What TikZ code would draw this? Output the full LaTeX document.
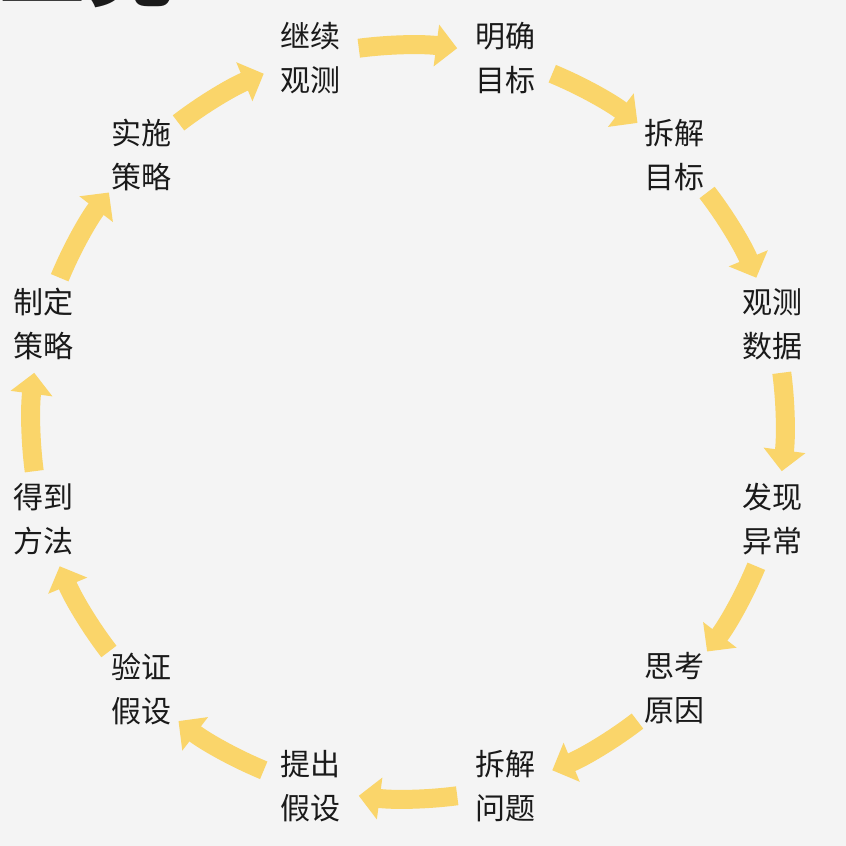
\documentclass[tikz,border=0pt]{standalone}
\usepackage{fontspec}
\newfontfamily\cjk{Noto Sans CJK SC}
\usetikzlibrary{arrows.meta}
\definecolor{bg}{RGB}{244,244,244}
\definecolor{arrowyellow}{RGB}{250,213,106}
\definecolor{txt}{RGB}{26,26,26}
\begin{document}
\begin{tikzpicture}[x=1pt,y=1pt,
  lbl/.style={align=center,inner sep=0pt,text=txt,font=\cjk\fontsize{30}{44}\selectfont},
  cyclearrow/.style={draw=arrowyellow,line width=19pt,-{Triangle[length=21pt,width=41pt,fill=arrowyellow]}}]
\fill[bg] (-408,-424) rectangle (438,422);
\useasboundingbox (-408,-424) rectangle (438,422);
% cropped title
\node[anchor=base west,inner sep=0pt,text=txt,font=\cjk\bfseries\fontsize{88}{88}\selectfont] (title) at (-410,422.5) {二完};
% labels
\node[lbl] (a1) at (75:377) {明确\\目标};
\node[lbl] (a2) at (45:377) {拆解\\目标};
\node[lbl] (a3) at (15:377) {观测\\数据};
\node[lbl] (a4) at (-15:377) {发现\\异常};
\node[lbl] (a5) at (-45:377) {思考\\原因};
\node[lbl] (a6) at (-75:377) {拆解\\问题};
\node[lbl] (a7) at (-105:377) {提出\\假设};
\node[lbl] (a8) at (-135:377) {验证\\假设};
\node[lbl] (a9) at (-165:377) {得到\\方法};
\node[lbl] (a10) at (165:377) {制定\\策略};
\node[lbl] (a11) at (135:377) {实施\\策略};
\node[lbl] (a12) at (105:377) {继续\\观测};
% arrows
\foreach \m in {90,60,...,-240}{
  \coordinate (s\m) at (\m+7.5:377);
  \draw[cyclearrow] (s\m) arc[start angle=\m+7.5,end angle=\m-7.5,radius=377];
}
\end{tikzpicture}
\end{document}
